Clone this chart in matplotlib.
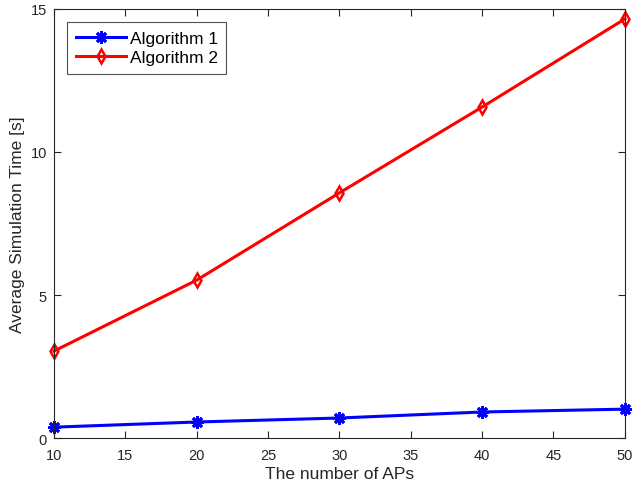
import matplotlib
matplotlib.use('Agg')
import matplotlib.pyplot as plt

plt.rcParams['font.family'] = ['Liberation Sans', 'DejaVu Sans']

aps = [10, 20, 30, 40, 50]
alg1 = [0.38, 0.56, 0.70, 0.91, 1.01]
alg2 = [3.04, 5.52, 8.57, 11.57, 14.65]

fig = plt.figure(figsize=(6.33, 4.89), dpi=100)
ax = fig.add_axes([0.0853, 0.1022, 0.9017, 0.8774])

ax.plot(aps, alg1, color='#0000ff', lw=2.2, marker=(8, 2, 0), ms=9, mew=2, label='Algorithm 1', clip_on=False)
ax.plot(aps, alg2, color='#ff0000', lw=2.2, marker='d', ms=7.5, mew=1.8, mfc='none', label='Algorithm 2', clip_on=False)

ax.set_xlim(10, 50)
ax.set_ylim(0, 15)
ax.set_xticks(range(10, 51, 5))
ax.set_yticks([0, 5, 10, 15])
ax.tick_params(direction='in', top=True, right=True, labelsize=10.5, length=5, color='#262626', labelcolor='#262626')
ax.tick_params(axis='x', pad=7)
ax.tick_params(axis='y', pad=5)
for s in ax.spines.values():
    s.set_color('#262626')
    s.set_linewidth(0.8)

ax.set_xlabel('The number of APs', fontsize=12.5, color='#262626', labelpad=3)
ax.set_ylabel('Average Simulation Time [s]', fontsize=12.5, color='#262626', labelpad=4)

leg = ax.legend(loc='upper left', fontsize=12.5, fancybox=False, edgecolor='#262626',
                borderaxespad=0.75, handlelength=2.9, borderpad=0.5, labelspacing=0.25, handletextpad=0.2)
leg.get_frame().set_linewidth(0.8)

fig.savefig('out.png', dpi=100)
